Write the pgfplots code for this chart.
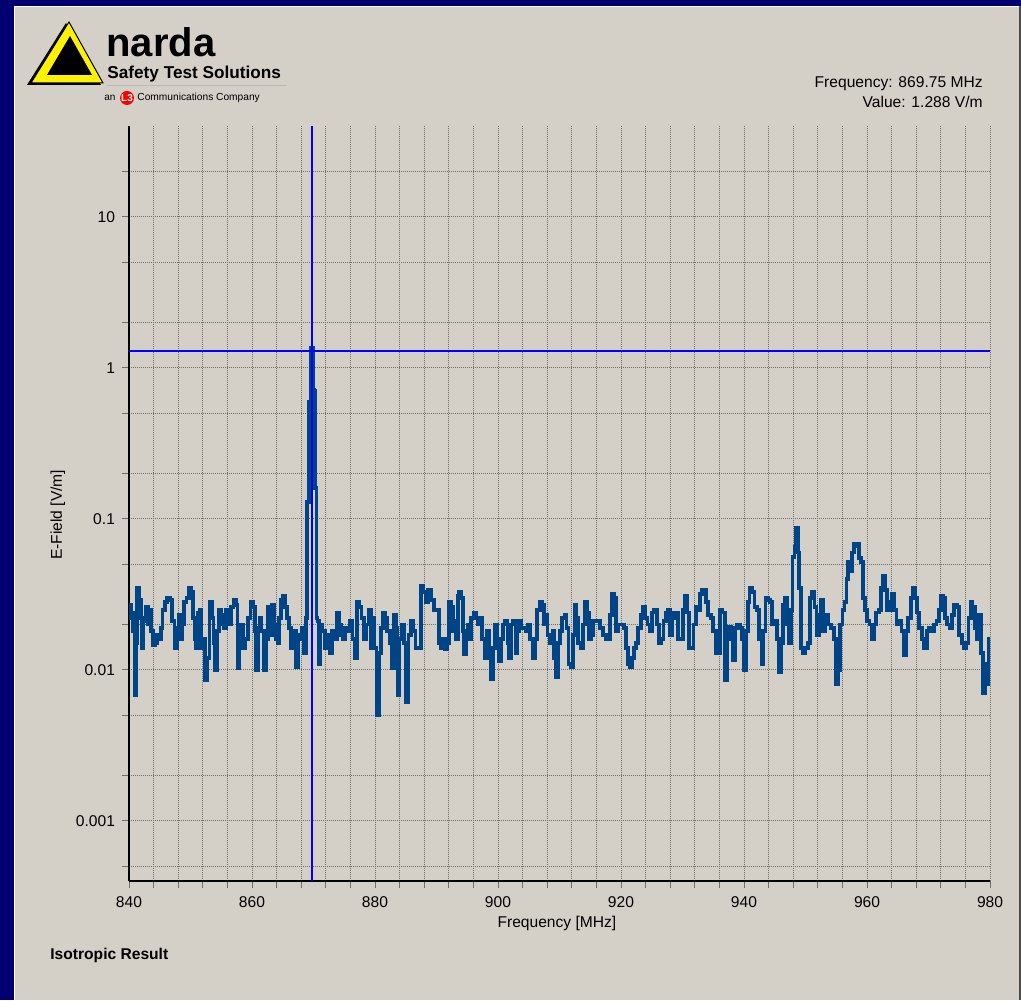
\documentclass[border=0pt]{standalone}
\usepackage{fontspec}
\setmainfont{Liberation Sans}
\usepackage{pgfplots}
\pgfplotsset{compat=1.18}

\definecolor{navyc}{RGB}{0,0,112}
\definecolor{panel}{RGB}{212,208,200}
\definecolor{trace}{RGB}{0,68,136}
\definecolor{cursor}{RGB}{0,0,255}
\definecolor{gridc}{RGB}{110,110,110}

\newcommand{\lbl}{\fontsize{7.8}{9}\selectfont}

\begin{document}
\begin{tikzpicture}
\useasboundingbox (0,0) rectangle (510.5pt,500pt);
% frame and logo, in image pixels (y downwards)
\begin{scope}[shift={(0pt,500pt)}, x=0.5pt, y=-0.5pt]
  \fill[navyc] (0,0) rectangle (1021,1000);
  \fill[panel] (15,6) rectangle (1019,1000);
  \fill[gray!60!black] (1019,6) rectangle (1021,1000);
  \draw[white, line width=0.5pt] (14.5,1000) -- (14.5,6.5) -- (1019,6.5);
  % narda triangle
  \fill[black] (66,23) -- (27,85) -- (101,85) -- cycle;
  \filldraw[fill=yellow, draw=black, line width=0.5pt] (69,22) -- (31,83) -- (103,83) -- cycle;
  \fill[black] (70,36) -- (47,75) -- (92,75) -- cycle;
  \node[anchor=base west, inner sep=0pt, font=\fontsize{20}{22}\selectfont\bfseries] at (106,57) {narda};
  \node[anchor=base west, inner sep=0pt, font=\fontsize{8.6}{10}\selectfont\bfseries] at (107,79) {Safety Test Solutions};
  \draw[gray!55, line width=0.6pt] (107,85.5) -- (287,85.5);
  \node[anchor=base west, inner sep=0pt, font=\fontsize{5}{6}\selectfont] at (104,101) {an};
  \fill[red] (127,98) circle (7);
  \node[inner sep=0pt, text=white, font=\fontsize{5}{6}\selectfont\bfseries] at (127,98) {L3};
  \node[anchor=base west, inner sep=0pt, font=\fontsize{5.1}{6}\selectfont] at (137,101) {Communications Company};
  % cursor readout
  \node[anchor=base east, inner sep=0pt, font=\lbl] at (983,88) {Frequency: 869.75 MHz};
  \node[anchor=base east, inner sep=0pt, font=\lbl] at (983,108) {Value: 1.288 V/m};
  \node[anchor=base west, inner sep=0pt, font=\lbl\bfseries] at (50,959) {Isotropic Result};
\end{scope}

\begin{axis}[
  at={(64.5pt,59.5pt)}, anchor=south west,
  scale only axis, width=430.5pt, height=377.5pt,
  ymode=log,
  xmin=840, xmax=980, ymin=4e-4, ymax=40,
  axis x line*=bottom, axis y line*=left,
  axis line style={-, black, line width=1pt},
  every inner x axis line/.append style={-},
  every inner y axis line/.append style={-},
  every outer x axis line/.append style={-},
  every outer y axis line/.append style={-},
  xtick={840,860,880,900,920,940,960,980},
  xticklabels={840,860,880,900,920,940,960,980},
  minor x tick num=4,
  ytick={0.001,0.01,0.1,1,10},
  yticklabels={0.001,0.01,0.1,1,10},
  minor ytick={5e-4,2e-3,5e-3,2e-2,5e-2,0.2,0.5,2,5,20},
  grid=both,
  major grid style={gridc, line width=0.5pt, dash pattern=on 0.5pt off 0.5pt},
  minor grid style={gridc, line width=0.5pt, dash pattern=on 0.5pt off 0.5pt},
  tick align=outside,
  major tick length=3.5pt, minor tick length=3.5pt,
  every tick/.style={gridc, line width=0.5pt},
  tick label style={font=\lbl},
  xticklabel style={yshift=-1pt},
  /pgf/number format/assume math mode=true,
  xlabel={Frequency [MHz]},
  ylabel={E-Field [V/m]},
  every axis x label/.style={at={(axis description cs:0.497,-0.0556)}, anchor=center, font=\lbl},
  every axis y label/.style={at={(axis description cs:-0.0825,0.485)}, anchor=center, rotate=90, font=\lbl},
]
\addplot[color=trace, line width=1.9pt, line join=miter, const plot mark mid] coordinates {
(840.0,0.022) (840.2,0.027) (840.5,0.024) (840.8,0.018) (841.0,0.0068) (841.2,0.015)
(841.5,0.035) (841.8,0.029) (842.0,0.022) (842.2,0.014) (842.5,0.021) (842.9,0.026)
(843.2,0.020) (843.4,0.025) (843.7,0.018) (844.0,0.0145) (844.4,0.015) (844.7,0.017)
(845.0,0.016) (845.3,0.019) (845.6,0.025) (846.0,0.028) (846.4,0.030) (846.9,0.029)
(847.2,0.021) (847.6,0.014) (847.9,0.019) (848.3,0.023) (848.6,0.016) (848.8,0.020)
(849.2,0.028) (849.5,0.030) (849.9,0.035) (850.2,0.033) (850.5,0.022) (850.8,0.016)
(851.0,0.014) (851.3,0.024) (851.6,0.025) (851.9,0.014) (852.2,0.016) (852.6,0.0085)
(852.9,0.012) (853.3,0.028) (853.6,0.022) (853.9,0.015) (854.1,0.010) (854.4,0.018)
(854.8,0.025) (855.1,0.020) (855.3,0.023) (855.6,0.019) (855.9,0.025) (856.2,0.021)
(856.4,0.020) (856.8,0.026) (857.2,0.029) (857.5,0.027) (857.8,0.0103) (858.1,0.017)
(858.4,0.020) (858.7,0.014) (859.1,0.016) (859.5,0.022) (860.0,0.028) (860.3,0.026)
(860.6,0.018) (860.8,0.0100) (861.1,0.019) (861.4,0.022) (861.7,0.018) (862.1,0.0099)
(862.4,0.016) (862.8,0.026) (863.1,0.017) (863.4,0.027) (863.7,0.020) (864.0,0.016)
(864.3,0.015) (864.6,0.022) (864.9,0.029) (865.2,0.031) (865.5,0.026) (865.8,0.022)
(866.2,0.019) (866.5,0.014) (866.9,0.018) (867.3,0.0104) (867.6,0.016) (868.0,0.017)
(868.3,0.019) (868.6,0.013) (868.9,0.022) (869.0,0.13) (869.2,0.13) (869.3,0.6)
(869.6,0.6) (869.7,1.35) (869.9,1.35) (870.0,0.72) (870.2,0.70) (870.25,0.16)
(870.45,0.16) (870.5,0.022) (870.8,0.021) (871.0,0.011) (871.3,0.020) (871.6,0.018)
(872.1,0.014) (872.5,0.017) (872.8,0.013) (873.2,0.018) (873.6,0.016) (874.0,0.024)
(874.3,0.020) (874.6,0.017) (874.9,0.016) (875.3,0.019) (875.6,0.018) (876.2,0.021)
(876.5,0.016) (876.9,0.012) (877.3,0.028) (877.6,0.026) (878.0,0.022) (878.4,0.016)
(878.7,0.020) (879.2,0.025) (879.5,0.014) (879.7,0.022) (880.0,0.014) (880.5,0.005)
(880.8,0.013) (881.1,0.019) (881.4,0.024) (881.8,0.022) (882.2,0.018) (882.6,0.015)
(882.9,0.0103) (883.2,0.023) (883.5,0.019) (883.8,0.0068) (884.1,0.016) (884.5,0.020)
(884.9,0.015) (885.3,0.0061) (885.6,0.017) (886.0,0.021) (886.4,0.018) (886.8,0.014)
(887.3,0.014) (887.7,0.036) (888.0,0.033) (888.4,0.028) (888.9,0.034) (889.4,0.029)
(889.8,0.025) (890.2,0.025) (890.5,0.015) (890.8,0.014) (891.2,0.016) (891.5,0.0138)
(891.8,0.015) (892.2,0.028) (892.5,0.026) (892.8,0.018) (893.0,0.021) (893.3,0.016)
(893.6,0.031) (893.8,0.033) (894.1,0.030) (894.4,0.018) (894.6,0.0128) (894.9,0.018)
(895.2,0.020) (895.5,0.016) (895.8,0.022) (896.2,0.024) (896.6,0.022) (897.0,0.020)
(897.3,0.022) (897.6,0.016) (898.0,0.012) (898.3,0.018) (898.7,0.014) (899.1,0.0087)
(899.4,0.014) (899.7,0.020) (900.0,0.016) (900.3,0.0115) (900.6,0.016) (901.0,0.020)
(901.4,0.021) (901.7,0.015) (902.0,0.012) (902.3,0.020) (902.7,0.021) (903.0,0.013)
(903.3,0.018) (903.6,0.021) (904.0,0.019) (904.4,0.019) (904.7,0.018) (905.0,0.020)
(905.4,0.016) (905.8,0.012) (906.2,0.016) (906.6,0.025) (907.0,0.028) (907.3,0.027)
(907.6,0.020) (907.9,0.023) (908.2,0.017) (908.7,0.015) (909.0,0.018) (909.3,0.012)
(909.6,0.009) (909.9,0.015) (910.2,0.018) (910.6,0.022) (911.0,0.023) (911.3,0.019)
(911.6,0.011) (912.0,0.0104) (912.3,0.017) (912.6,0.027) (912.9,0.022) (913.2,0.015)
(913.6,0.014) (914.0,0.020) (914.3,0.028) (914.6,0.024) (914.9,0.016) (915.3,0.017)
(915.7,0.021) (916.3,0.021) (916.8,0.019) (917.3,0.017) (917.7,0.016) (918.0,0.016)
(918.4,0.023) (918.7,0.032) (919.0,0.030) (919.4,0.018) (919.8,0.020) (920.2,0.020)
(920.7,0.019) (921.0,0.014) (921.3,0.011) (921.6,0.0104) (922.0,0.012) (922.3,0.014)
(922.6,0.015) (923.0,0.019) (923.4,0.023) (923.7,0.026) (924.1,0.022) (924.5,0.020)
(924.8,0.018) (925.2,0.024) (925.6,0.025) (926.0,0.020) (926.4,0.015) (926.7,0.016)
(927.1,0.021) (927.5,0.024) (927.8,0.025) (928.1,0.017) (928.5,0.022) (928.8,0.024)
(929.1,0.024) (929.5,0.016) (929.9,0.016) (930.3,0.025) (930.6,0.031) (930.9,0.024)
(931.3,0.014) (931.6,0.014) (932.0,0.020) (932.4,0.026) (932.7,0.025) (933.0,0.032)
(933.4,0.034) (933.7,0.034) (934.0,0.028) (934.4,0.023) (934.8,0.022) (935.2,0.018)
(935.6,0.013) (935.9,0.013) (936.3,0.025) (936.7,0.024) (937.0,0.0085) (937.4,0.019)
(937.7,0.0194) (938.0,0.016) (938.3,0.0116) (938.7,0.019) (939.1,0.020) (939.5,0.019)
(939.9,0.016) (940.2,0.010) (940.5,0.018) (940.8,0.028) (941.0,0.035) (941.5,0.033)
(941.9,0.026) (942.3,0.025) (942.7,0.016) (943.0,0.011) (943.3,0.018) (943.7,0.030)
(944.0,0.029) (944.4,0.028) (944.8,0.020) (945.1,0.021) (945.5,0.016) (945.9,0.0097)
(946.2,0.015) (946.5,0.027) (946.9,0.030) (947.2,0.020) (947.5,0.015) (947.8,0.025)
(948.0,0.056) (948.4,0.065) (948.6,0.087) (948.9,0.060) (949.1,0.035) (949.4,0.014)
(949.8,0.013) (950.2,0.014) (950.5,0.015) (950.9,0.030) (951.3,0.033) (951.6,0.026)
(952.0,0.017) (952.3,0.023) (952.7,0.029) (953.0,0.018) (953.5,0.023) (954.0,0.020)
(954.4,0.019) (954.8,0.016) (955.2,0.008) (955.5,0.010) (955.8,0.020) (956.2,0.025)
(956.5,0.028) (956.8,0.040) (957.1,0.052) (957.4,0.045) (957.7,0.060) (958.0,0.068)
(958.3,0.066) (958.6,0.068) (958.9,0.055) (959.2,0.052) (959.5,0.030) (959.8,0.025)
(960.2,0.021) (960.6,0.020) (961.0,0.016) (961.3,0.020) (961.7,0.024) (962.1,0.025)
(962.5,0.035) (962.8,0.042) (963.1,0.034) (963.5,0.025) (963.9,0.028) (964.2,0.032)
(964.6,0.025) (965.0,0.020) (965.4,0.021) (965.8,0.018) (966.2,0.0125) (966.5,0.018)
(966.9,0.022) (967.3,0.030) (967.6,0.035) (967.9,0.030) (968.3,0.024) (968.7,0.019)
(969.1,0.016) (969.5,0.014) (969.9,0.018) (970.3,0.019) (970.7,0.018) (971.1,0.020)
(971.5,0.021) (971.8,0.025) (972.2,0.031) (972.5,0.030) (972.8,0.022) (973.2,0.020)
(973.6,0.019) (974.0,0.023) (974.4,0.027) (974.8,0.026) (975.2,0.017) (975.6,0.015)
(976.0,0.014) (976.3,0.015) (976.7,0.022) (977.0,0.028) (977.3,0.026) (977.7,0.019)
(978.0,0.016) (978.4,0.023) (978.7,0.013) (979.0,0.007) (979.3,0.011) (979.6,0.008)
(979.95,0.016)
};
\addplot[color=cursor, line width=1pt] coordinates {(869.75,4e-4) (869.75,40)};
\addplot[color=cursor, line width=1pt] coordinates {(840,1.288) (980,1.288)};
\end{axis}
\end{tikzpicture}
\end{document}
